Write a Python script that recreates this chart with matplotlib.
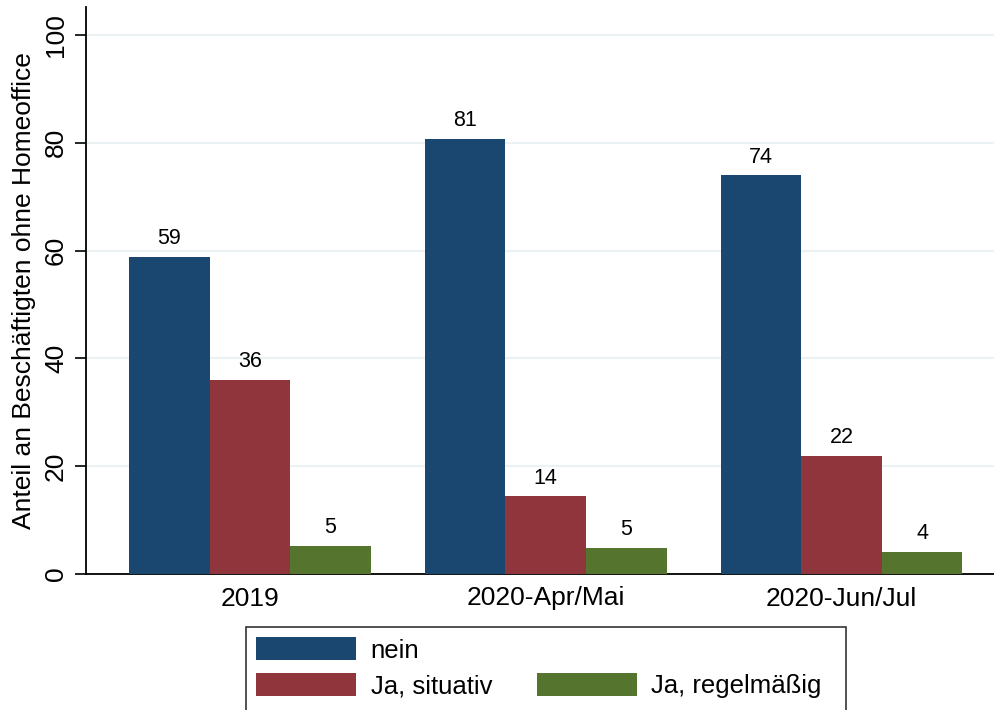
"""
Homeoffice bar chart (Stata-style)
"""
import matplotlib
matplotlib.use("Agg")
import matplotlib.pyplot as plt
import matplotlib.patches as mpatches
import numpy as np

plt.rcParams['font.family'] = ['Liberation Sans', 'DejaVu Sans']

# Data
categories = ['2019', '2020-Apr/Mai', '2020-Jun/Jul']
series_names = ['nein', 'Ja, situativ', 'Ja, regelmäßig']
nein = [58.8, 80.7, 74.0]
situativ = [36.0, 14.4, 21.9]
regelmaessig = [5.2, 4.8, 4.1]
colors = ['#1a476f', '#90353b', '#55752f']
y_ticks = [0, 20, 40, 60, 80, 100]

W, H = 995, 710
fig = plt.figure(figsize=(W / 100, H / 100), dpi=100)
ax = fig.add_axes([86 / W, 1 - 574 / H, 1 - 86 / W, 567 / H])

x = np.arange(len(categories))
width = 0.2725
for i, (vals, col) in enumerate(zip([nein, situativ, regelmaessig], colors)):
    ax.bar(x + (i - 1) * width, vals, width, color=col, zorder=3, linewidth=0)
    for xi, v in zip(x + (i - 1) * width, vals):
        ax.annotate(f"{v:.0f}", (xi, v), xytext=(0, 5.5), textcoords='offset points',
                    ha='center', va='bottom', fontsize=15.5)

ax.set_xlim(-0.554, 2.519)
ax.set_ylim(0, 105.2)
ax.set_yticks(y_ticks)
ax.set_yticklabels([str(t) for t in y_ticks], rotation=90, va='center', fontsize=19)
ax.set_xticks(x)
ax.set_xticklabels(categories, fontsize=19)
ax.tick_params(axis='x', length=0, pad=9)
ax.tick_params(axis='y', length=8, width=1.2, pad=5)
ax.grid(axis='y', color='#eaf2f3', linewidth=1.5, zorder=0)
ax.set_axisbelow(True)
for s in ['top', 'right']:
    ax.spines[s].set_visible(False)
ax.spines['left'].set_linewidth(1.3)
ax.spines['bottom'].set_linewidth(1.3)
ax.set_ylabel('Anteil an Beschäftigten ohne Homeoffice', fontsize=19, labelpad=6)

# Legend: row 1 nein, row 2 situativ + regelmäßig
handles = [mpatches.Patch(color=c, linewidth=0) for c in colors]
blank = mpatches.Patch(color='none', linewidth=0)
leg = fig.legend([handles[0], handles[1], blank, handles[2]],
                 [series_names[0], series_names[1], '', series_names[2]],
                 ncol=2, loc='upper left', bbox_to_anchor=(246 / W, 1 - 627 / H),
                 fontsize=18.5, frameon=False,
                 handlelength=3.9, handleheight=1.0, handletextpad=0.55,
                 columnspacing=1.75, labelspacing=0.4, borderpad=0.4,
                 borderaxespad=0)

# legend box runs past the bottom edge like in the original
box = mpatches.Rectangle((246 / W, -10 / H), 600 / W, (H - 627 + 10) / H,
                         transform=fig.transFigure, fill=False,
                         edgecolor='#333333', linewidth=1.2, clip_on=False)
fig.patches.append(box)

fig.savefig('out.png', dpi=100)
